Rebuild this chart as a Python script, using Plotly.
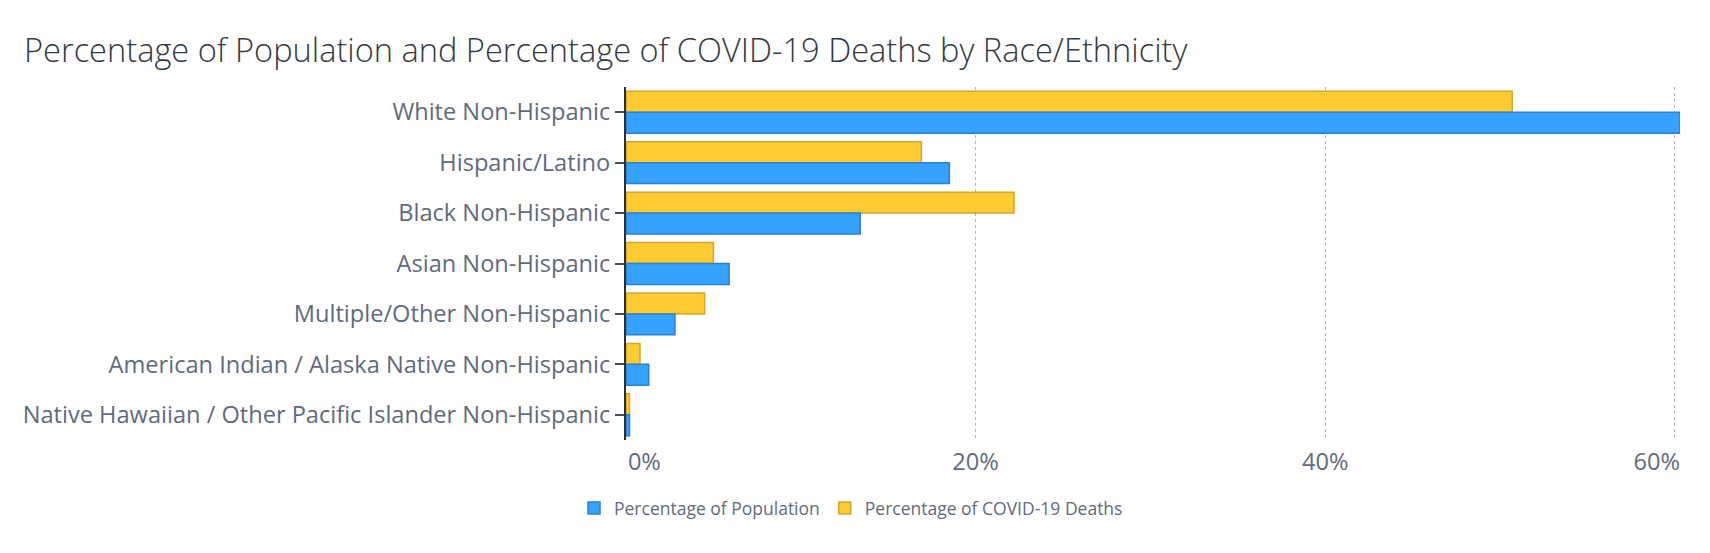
import plotly.graph_objects as go

categories = [
    "White Non-Hispanic",
    "Hispanic/Latino",
    "Black Non-Hispanic",
    "Asian Non-Hispanic",
    "Multiple/Other Non-Hispanic",
    "American Indian / Alaska Native Non-Hispanic",
    "Native Hawaiian / Other Pacific Islander Non-Hispanic",
]
population_pct = [60.3, 18.5, 13.4, 5.9, 2.8, 1.3, 0.2]
deaths_pct = [50.7, 16.9, 22.2, 5.0, 4.5, 0.8, 0.2]

x_range = [0, 60.3]
main_tick_vals = [0, 20, 40]
nb = "\u00a0"
main_tick_text = [nb * 6 + "0%", "20%", "40%"]
edge_tick_vals = [60]
edge_tick_text = ["60%"]

label_color = "#5f6b7d"
font_family = "'Open Sans', Lato, sans-serif"
tick_font = dict(family=font_family, size=23.6, color=label_color)

W, H = 1702, 545  # page body has an 8px margin

fig = go.Figure()
fig.add_trace(go.Bar(
    y=categories, x=deaths_pct, orientation="h",
    name="Percentage of COVID-19 Deaths", legendrank=2,
    marker=dict(color="#ffcb33", line=dict(color="#d4a62b", width=1.5)),
    hoverinfo="x+y",
))
fig.add_trace(go.Bar(
    y=categories, x=population_pct, orientation="h",
    name="Percentage of Population", legendrank=1,
    marker=dict(color="#36a2ff", line=dict(color="#2a80d2", width=1.5)),
    hoverinfo="x+y",
))
# empty helper trace so the overlay axis carrying the right-edge label is drawn
fig.add_trace(go.Scatter(
    x=[], y=[], xaxis="x2", yaxis="y", mode="markers",
    showlegend=False, hoverinfo="skip",
))

fig.update_layout(
    width=W, height=H,
    paper_bgcolor="white", plot_bgcolor="white",
    barmode="group", bargap=0.17, bargroupgap=0,
    margin=dict(l=618, r=30, t=79, b=113),
    title=dict(
        text="Percentage of Population and Percentage of COVID-19 Deaths by Race/Ethnicity",
        x=16 / W, xanchor="left", y=1 - 43 / H, yanchor="middle",
        font=dict(family=font_family, size=32.6, color="#333a40", weight=300),
    ),
    font=dict(family=font_family, color=label_color),
    legend=dict(
        orientation="h", x=843 / W, xanchor="center", xref="container",
        y=1 - 500 / H, yanchor="middle", yref="container",
        font=dict(size=17.5, color=label_color),
        traceorder="normal",
    ),
    xaxis=dict(
        range=x_range, tickvals=main_tick_vals, ticktext=main_tick_text,
        showgrid=True, gridcolor="#b5b5b5", griddash="dot", gridwidth=1,
        zeroline=False, showline=False,
        tickfont=tick_font, ticks="", ticklabelstandoff=5,
    ),
    xaxis2=dict(
        overlaying="x", anchor="y", side="bottom", range=x_range,
        tickvals=edge_tick_vals, ticktext=edge_tick_text,
        showgrid=True, gridcolor="#b5b5b5", griddash="dot", gridwidth=1,
        zeroline=False, showline=False,
        tickfont=tick_font, ticks="", ticklabelstandoff=5,
        ticklabelshift=-18,
    ),
    yaxis=dict(
        autorange="reversed", showline=True, linecolor="#2b2f33", linewidth=2,
        ticks="outside", ticklen=9, tickcolor="#4a4f55", tickwidth=2,
        tickfont=tick_font, showgrid=False,
    ),
)

fig.write_html("out.html")
